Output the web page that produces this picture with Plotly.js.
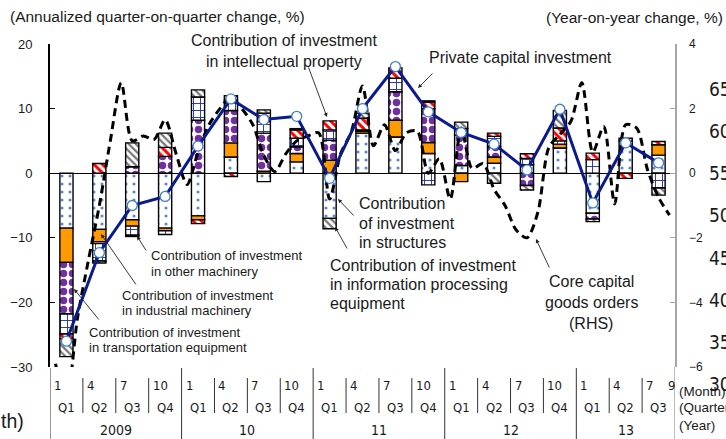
<!DOCTYPE html>
<html><head><meta charset="utf-8">
<script src="https://cdn.plot.ly/plotly-3.0.1.min.js"></script>
<style>html,body{margin:0;padding:0;background:#fff;}#chart{width:726px;height:439px;}</style>
</head><body><div id="chart"></div>
<script>
// ---------- DATA ----------
const quarterLabels = ['Q1','Q2','Q3','Q4','Q1','Q2','Q3','Q4','Q1','Q2','Q3','Q4','Q1','Q2','Q3','Q4','Q1','Q2','Q3'];
const monthLabels = ['1','4','7','10','1','4','7','10','1','4','7','10','1','4','7','10','1','4','7','9'];
const yearLabels = ['2009','10','11','12','13'];
const unitLabels = ['(Month)','(Quarter)','(Year)'];
const ghostTicks = [65,60,55,50,45,40,35,30];

// contributions (annualized q/q, %pt)
const structures   = [-8.5,-8.7,-7.2,-8.5,-6.6, 2.5,-1.3,1.75,-7.0, 6.2, 5.6,3.05, 1.2,1.55, 1.3, 3.9,-6.2, 5.0, 2.8];
const industrial   = [-5.3,-1.9,-1.0,-0.4,-0.6, 2.2, 0.3, 1.3, 2.0, 0.3, 2.6, 1.7,-1.3,0.95, 0,   0.6, 0,   0,   1.6];
const transport    = [-8.0,-0.3, 1.0, 2.6, 8.2, 5.0, 5.9,1.05, 3.1, 0,   4.4,5.25, 4.7, 1.6,-1.9, 0,  -0.9, 0,   0];
const otherMach    = [-3.1,-2.7,-1.4,-0.6, 3.6, 1.6, 1.8, 1.3, 1.6, 0.2, 2.1,-1.8, 1.0, 1.6, 1.0, 0.5, 2.1, 0,  -2.3];
const intellectual = [-0.7, 1.5,-0.2, 1.4,-0.6,-0.5, 1.3, 1.3, 1.4, 1.8, 1.6, 1.0, 0,   0.5, 0.7, 2.0, 1.0,-0.8, 0.5];
const infoProc     = [-2.8,-0.3, 3.7, 2.2, 1.1, 0.7, 0.5, 0.2,-1.6, 0.8, 0,   0.2, 1.0,-1.55,-0.7,2.7,-0.4, 0.4,-1.1];
const privateInv   = [-26.0,-12.3,-5.0,-3.6,4.2,11.5,8.3,8.8,-0.8,10.0,16.5,9.5,6.3,4.5,0.5,9.9,-4.6,4.7,1.6];

// core capital goods orders (RHS, monthly Jan 2009 - Sep 2013)
const coreOrders = [
  -5.9,-7.0,-4.5,-2.7,-1.0, 1.0, 2.8, 1.0, 1.15,1.05,1.65,0.6,
  -0.35,0.65,1.5, 2.0, 2.35,2.0, 1.5, 0.55,0.05,0.6, 1.0, 1.15,
   1.25,-0.8,0.6, 1.3, 2.7, 0.85,1.5, 0.7, 1.25,1.3, 0.0, 0.45,
  -0.8, 1.4, 0.15,0.3,-0.5,-1.0,-1.75,-2.0,-1.2,0.8, 1.2, 1.6,
   2.8, 0.65,1.45,-0.95,1.5,1.4, 0.1,-0.75,-1.3];

// ---------- GEOMETRY HELPERS ----------
const W = 726, H = 439, ML = 50, MT = 44, MR = 51, MB = 72;
const PW = W - ML - MR, PH = H - MT - MB;
const px = x => (x - ML) / PW;
const py = y => (MT + PH - y) / PH;

const nQ = quarterLabels.length;
const nM = coreOrders.length;
const xQuarter = quarterLabels.map((_, i) => 3 * i + 1.5);
const xMonth = coreOrders.map((_, i) => i + 0.5);
const nz = arr => arr.map(v => v === 0 ? null : v);

const LINE = {color: '#000', width: 1.4};
function barTrace(name, vals, marker) {
  return {type: 'bar', name, x: xQuarter, y: nz(vals), width: 1.2,
    marker: Object.assign({line: LINE}, marker), hoverinfo: 'skip'};
}

const traces = [
  barTrace('Structures', structures, {color: '#fff', pattern: {shape: '.', fgcolor: '#5B8DD6', bgcolor: '#fff', size: 8, solidity: 0.12}}),
  barTrace('Industrial machinery', industrial, {color: '#FF9A00'}),
  barTrace('Transportation equipment', transport, {color: '#fff', pattern: {shape: '.', fgcolor: '#7030A0', bgcolor: '#fff', size: 9, solidity: 0.55}}),
  barTrace('Other machinery', otherMach, {color: '#fff', pattern: {shape: '+', fgcolor: '#2233AA', bgcolor: '#fff', size: 7, solidity: 0.25}}),
  barTrace('Intellectual property', intellectual, {color: '#fff', pattern: {shape: '\\', fgcolor: '#FF0000', bgcolor: '#fff', size: 6, solidity: 0.5}}),
  barTrace('Information processing equipment', infoProc, {color: '#fff', pattern: {shape: '\\', fgcolor: '#777', bgcolor: '#fff', size: 5, solidity: 0.45}}),
  {type: 'scatter', mode: 'lines', name: 'Core capital goods orders', x: xMonth, y: coreOrders, yaxis: 'y2',
    line: {color: '#000', width: 3, dash: '8px,5px', shape: 'spline', smoothing: 0.8}, hoverinfo: 'skip'},
  {type: 'scatter', mode: 'lines+markers', name: 'Private capital investment', x: xQuarter, y: privateInv, yaxis: 'y3',
    line: {color: '#0B1A8C', width: 3}, marker: {size: 10, color: '#fff', line: {color: '#3F7FCF', width: 1.3}}, hoverinfo: 'skip'}
];

const F = 'Arial, "Liberation Sans", sans-serif';
const FN = '"Liberation Sans Narrow", "Arial Narrow", "DejaVu Sans Condensed", sans-serif';
const ann = [];
function txt(t, x, y, size, anchor, fam) {
  ann.push({text: t, x: px(x), y: py(y), xref: 'paper', yref: 'paper', showarrow: false,
    xanchor: anchor || 'left', yanchor: 'middle', font: {family: fam || F, size, color: '#1a1a1a'}});
}
function arrow(hx, hy, tx, ty) {
  ann.push({text: '', x: px(hx), y: py(hy), xref: 'paper', yref: 'paper', showarrow: true,
    ax: tx - hx, ay: ty - hy, axref: 'pixel', ayref: 'pixel', arrowhead: 2, arrowsize: 0.9,
    arrowwidth: 0.9, arrowcolor: '#222', standoff: 0, startstandoff: 0});
}

txt('(Annualized quarter-on-quarter change, %)', 8, 17, 15.5);
txt('(Year-on-year change, %)', 544, 18, 15.5);
txt('Contribution of investment', 284, 41, 16, 'center');
txt('in intellectual property', 284, 62, 16, 'center');
arrow(327, 117, 308, 66);
txt('Private capital investment', 520, 57, 16, 'center');
arrow(418, 88, 434, 72);
txt('Contribution', 357, 203, 16);
txt('of investment', 357, 223, 16);
txt('in structures', 357, 242, 16);
arrow(338, 199, 355, 217);
txt('Contribution of investment', 328, 265, 16);
txt('in information processing', 328, 284, 16);
txt('equipment', 328, 303, 16);
arrow(335, 227, 348, 250);
txt('Core capital', 591, 281, 16, 'center');
txt('goods orders', 591, 302, 16, 'center');
txt('(RHS)', 591, 323, 16, 'center');
arrow(536, 239, 550, 269);
txt('Contribution of investment', 149, 255, 13);
txt('in other machinery', 149, 271, 13);
arrow(137, 236, 147, 252);
txt('Contribution of investment', 120, 295, 13);
txt('in industrial machinery', 120, 310, 13);
arrow(101, 234, 137, 286);
txt('Contribution of investment', 87, 332, 13);
txt('in transportation equipment', 87, 347, 13);
arrow(74, 289, 100, 321);
txt('th)', -1, 421, 19.5);

// unit labels at the right of the category axis
unitLabels.forEach((t, i) => txt(t, 677, 391 + i * 17, 13.5));
// cut-off ghost scale on far right (from a neighbouring panel)
ghostTicks.forEach(v => txt(String(v), 707, 173 - (v - 55) * 8.45, 19, 'left', FN));

// category axis labels (months / quarters / years) placed with the x scale
const shapes = [];
monthLabels.forEach((t, i) => {
  const m = i < nQ ? 3 * i : nM - 1;
  ann.push({text: t, x: m, xref: 'x', y: py(385), yref: 'paper', xshift: 2, showarrow: false,
    xanchor: 'left', yanchor: 'middle', font: {family: FN, size: 13, color: '#1a1a1a'}});
});
quarterLabels.forEach((t, i) => {
  ann.push({text: t, x: xQuarter[i], xref: 'x', y: py(408), yref: 'paper', showarrow: false,
    xanchor: 'center', yanchor: 'middle', font: {family: FN, size: 13, color: '#1a1a1a'}});
});
yearLabels.forEach((t, k) => {
  const s = 12 * k, e = Math.min(12 * k + 12, nM);
  ann.push({text: t, x: (s + e) / 2, xref: 'x', y: py(430), yref: 'paper', showarrow: false,
    xanchor: 'center', yanchor: 'middle', font: {family: FN, size: 14, color: '#1a1a1a'}});
});
for (let i = 0; i < nQ; i++) {
  const m = 3 * i;
  const longSep = i % 4 === 0;
  shapes.push({type: 'line', xref: 'x', yref: 'paper', x0: m, x1: m,
    y0: py(longSep ? 368 : 378), y1: py(longSep ? 439 : 413),
    line: {color: '#333', width: 1}});
}
shapes.push({type: 'line', xref: 'x', yref: 'paper', x0: nM, x1: nM, y0: py(367), y1: py(439),
  line: {color: '#A6A6A6', width: 1.5}});

const layout = {
  width: W, height: H, margin: {l: ML, r: MR, t: MT, b: MB, pad: 0},
  paper_bgcolor: '#fff', plot_bgcolor: 'rgba(0,0,0,0)', showlegend: false,
  barmode: 'relative', bargap: 0,
  xaxis: {range: [0, nM], showticklabels: false, ticks: '', showline: false, showgrid: false, zeroline: false, fixedrange: true},
  yaxis: {range: [-30, 20], dtick: 10, ticks: 'inside', ticklen: 5, tickwidth: 1, tickcolor: '#000',
    showline: true, linecolor: '#000', linewidth: 2, showgrid: false,
    zeroline: true, zerolinecolor: '#000', zerolinewidth: 1,
    tickfont: {family: F, size: 13, color: '#1a1a1a'}, ticklabelstandoff: 13, fixedrange: true},
  yaxis2: {overlaying: 'y', side: 'right', range: [-6, 4], dtick: 2, ticks: 'inside', ticklen: 5,
    tickcolor: '#A6A6A6', showline: true, linecolor: '#A6A6A6', linewidth: 1.5, showgrid: false, zeroline: false,
    tickfont: {family: F, size: 12, color: '#1a1a1a'}, ticklabelstandoff: 10, fixedrange: true},
  yaxis3: {overlaying: 'y', range: [-30, 20], visible: false, fixedrange: true},
  annotations: ann, shapes: shapes
};

Plotly.newPlot('chart', traces, layout, {staticPlot: true, displayModeBar: false});
</script></body></html>
